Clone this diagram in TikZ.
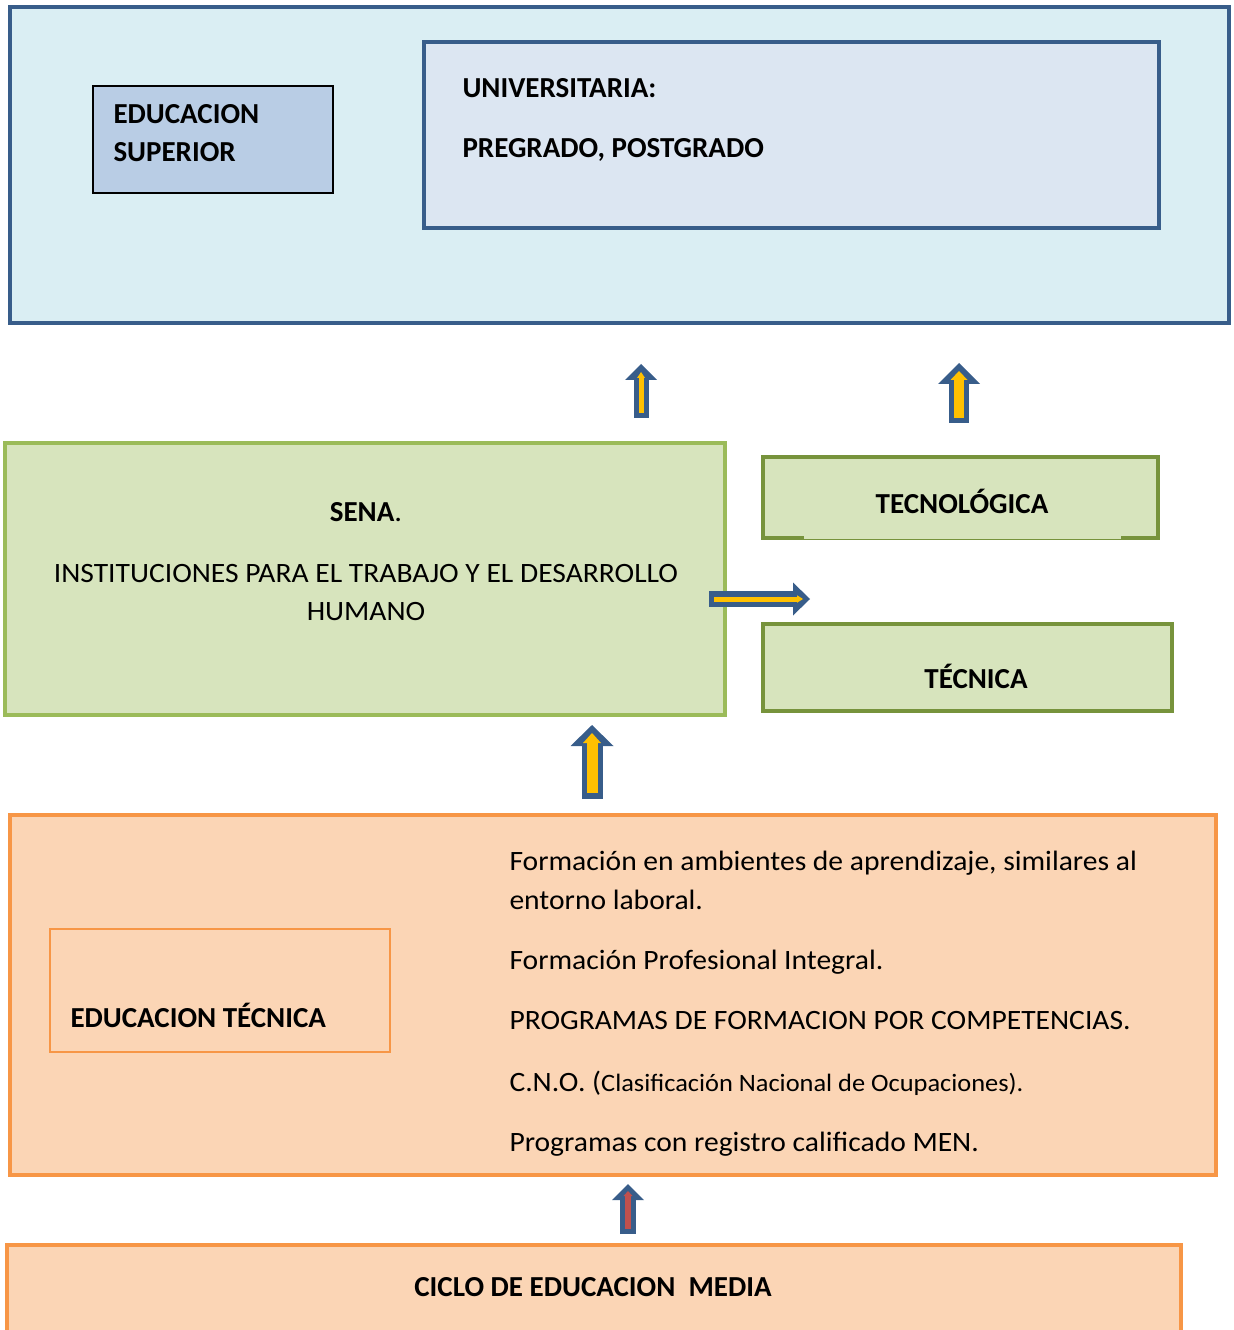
\documentclass[tikz,border=0pt]{standalone}
\usepackage{fontspec}
\setmainfont{Carlito}
\newfontfamily\textoancho[FakeStretch=1.056]{Carlito}
\usetikzlibrary{arrows.meta}

\definecolor{azulborde}{HTML}{385D8A}
\definecolor{celeste}{HTML}{DAEEF3}
\definecolor{azulclaro}{HTML}{DCE6F2}
\definecolor{azulmedio}{HTML}{B9CDE5}
\definecolor{verdeclaro}{HTML}{9BBB59}
\definecolor{verdeoscuro}{HTML}{77933C}
\definecolor{verdefondo}{HTML}{D7E4BD}
\definecolor{naranja}{HTML}{F79646}
\definecolor{naranjafondo}{HTML}{FBD5B5}
\definecolor{amarillo}{HTML}{FFC000}
\definecolor{rojo}{HTML}{C0504D}

\tikzset{
    titulo/.style={inner sep=0pt, font=\fontsize{11.6}{14}\selectfont\bfseries},
    texto/.style={inner sep=0pt, font=\textoancho\fontsize{11.2}{13}\selectfont},
    fondoflecha/.style n args={3}{draw=azulborde, line width=#1,
        -{Triangle[width=#2, length=#3, line width=0pt]}},
    frenteflecha/.style n args={3}{line width=#1,
        -{Triangle[width=#2, length=#3, line width=0pt]}}
}

\begin{document}
\begin{tikzpicture}[x=0.4pt,y=-0.4pt]
        \useasboundingbox (0,0) rectangle (1233,1330);

        % educacion superior
        \draw[line width=1.6pt, draw=azulborde, fill=celeste] (10,7) rectangle (1229,323);
        \draw[line width=0.6pt, fill=azulmedio] (93,86) rectangle (333,193);
        \draw[line width=1.6pt, draw=azulborde, fill=azulclaro] (424,42) rectangle (1159,228);

        \node[titulo, anchor=base west] (edu) at (113,124) {EDUCACION};
        \node[titulo, anchor=base west] (sup) at (113,162) {SUPERIOR};
        \node[titulo, anchor=base west] (univ) at (462,98) {UNIVERSITARIA:};
        \node[titulo, anchor=base west] (pre) at (462,158) {PREGRADO, POSTGRADO};

        % sena, tecnologica, tecnica
        \draw[line width=1.6pt, draw=verdeclaro, fill=verdefondo] (5,443) rectangle (725,715);
        \draw[line width=1.6pt, draw=verdeoscuro, fill=verdefondo] (763,457) rectangle (1158,538);
        \fill[verdefondo] (804,536) rectangle (1121,538.5);
        \draw[line width=1.6pt, draw=verdeoscuro, fill=verdefondo] (763,624) rectangle (1172,711);

        \node[anchor=base, inner sep=0pt] (sena) at (366,522) {\fontsize{11.6}{14}\selectfont\textbf{SENA}\textoancho .};
        \node[texto, anchor=base] (inst) at (366,582) {INSTITUCIONES PARA EL TRABAJO Y EL DESARROLLO};
        \node[texto, anchor=base] (hum) at (366,620) {HUMANO};
        \node[titulo, anchor=base] (tecno) at (962,514) {TECNOLÓGICA};
        \node[titulo, anchor=base] (tecn) at (976,688) {TÉCNICA};

        % educacion tecnica
        \draw[line width=1.6pt, draw=naranja, fill=naranjafondo] (10,815) rectangle (1216,1175);
        \draw[line width=0.5pt, draw=naranja] (50,929) rectangle (390,1052);

        \node[titulo, anchor=base west] (edtec) at (70,1027) {EDUCACION TÉCNICA};
        \node[texto, anchor=base west] (l1) at (509,870) {Formación en ambientes de aprendizaje, similares al};
        \node[texto, anchor=base west] (l2) at (509,909) {entorno laboral.};
        \node[texto, anchor=base west] (l3) at (509,969) {Formación Profesional Integral.};
        \node[texto, anchor=base west] (l4) at (509,1029) {PROGRAMAS DE FORMACION POR COMPETENCIAS.};
        \node[texto, anchor=base west] (l5) at (509,1091) {C.N.O. ({\fontsize{10}{12}\selectfont Clasificación Nacional de Ocupaciones).}};
        \node[texto, anchor=base west] (l6) at (509,1151) {Programas con registro calificado MEN.};

        % ciclo de educacion media
        \draw[line width=1.6pt, draw=naranja, fill=naranjafondo] (7,1245) rectangle (1181,1345);
        \node[titulo, anchor=base] (ciclo) at (593,1296) {CICLO DE EDUCACION~~MEDIA};

        % flechas
        \coordinate (f1a) at (641,418);
        \coordinate (f1b) at (641,364);
        \coordinate (f2a) at (959,423);
        \coordinate (f2b) at (959,363);
        \coordinate (f3a) at (592,799);
        \coordinate (f3b) at (592,725);
        \coordinate (f4a) at (628,1234);
        \coordinate (f4b) at (628,1184);
        \coordinate (f5a) at (709,599);
        \coordinate (f5b) at (810,599);

        \draw[fondoflecha={6pt}{12.8pt}{6.4pt}] (f1a) -- (f1b);
        \draw[frenteflecha={2pt}{3.2pt}{2.4pt}, draw=amarillo, shorten <=2pt, shorten >=3.2pt] (f1a) -- (f1b);

        \draw[fondoflecha={8pt}{16.8pt}{8.4pt}] (f2a) -- (f2b);
        \draw[frenteflecha={4pt}{6.8pt}{3.6pt}, draw=amarillo, shorten <=2pt, shorten >=3.2pt] (f2a) -- (f2b);

        \draw[fondoflecha={8.4pt}{17.2pt}{8.4pt}] (f3a) -- (f3b);
        \draw[frenteflecha={4.4pt}{7.2pt}{4pt}, draw=amarillo, shorten <=2.4pt, shorten >=3.2pt] (f3a) -- (f3b);

        \draw[fondoflecha={6.4pt}{12.8pt}{6.4pt}] (f4a) -- (f4b);
        \draw[frenteflecha={2.4pt}{3.6pt}{2pt}, draw=rojo, shorten <=2pt, shorten >=2.8pt] (f4a) -- (f4b);

        \draw[fondoflecha={6.4pt}{13.2pt}{6.8pt}] (f5a) -- (f5b);
        \draw[frenteflecha={2pt}{3pt}{2.4pt}, draw=amarillo, shorten <=2pt, shorten >=2.8pt] (f5a) -- (f5b);

    \end{tikzpicture}
\end{document}
